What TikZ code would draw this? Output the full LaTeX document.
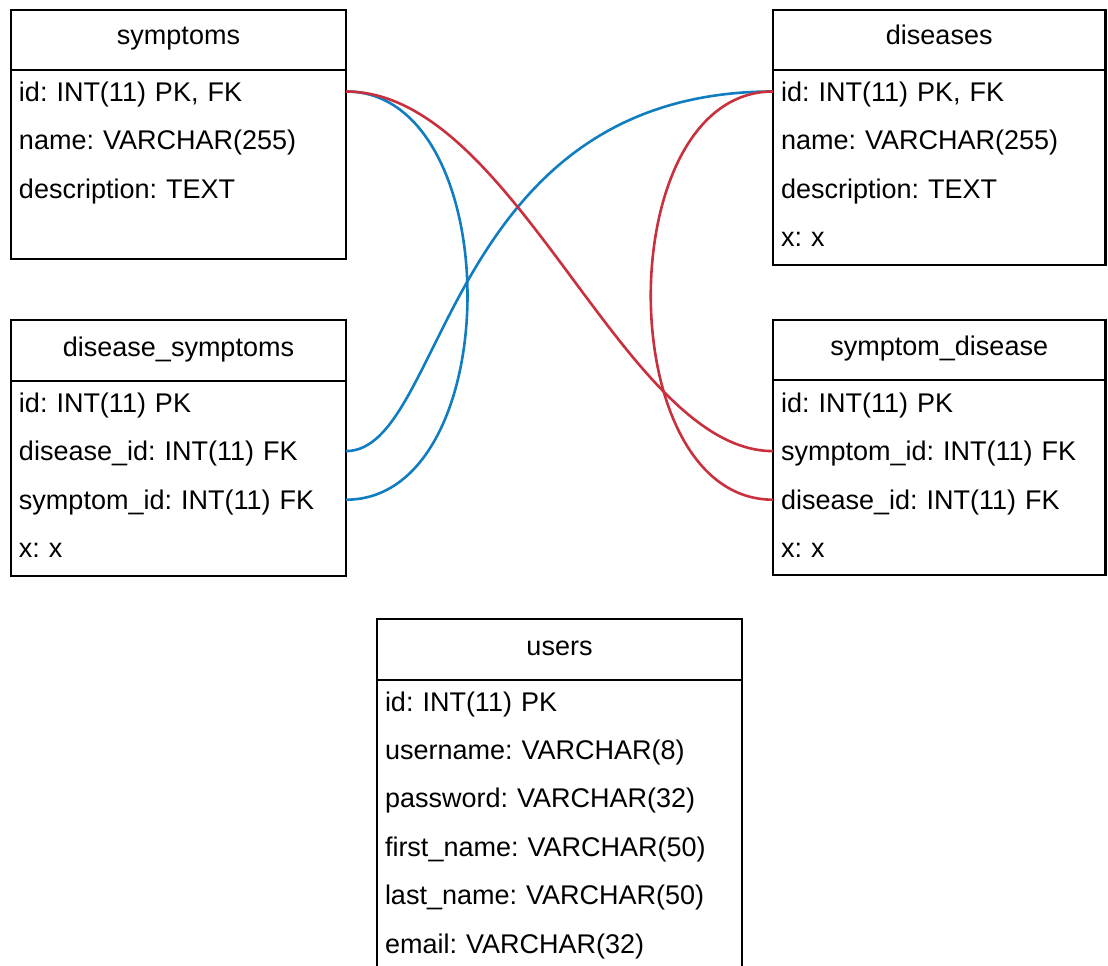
\documentclass[tikz,border=0pt]{standalone}
\usepackage{fontspec}
\setmainfont{Liberation Sans}
\definecolor{linkred}{RGB}{201,48,62}
\definecolor{linkblue}{RGB}{17,125,193}
\tikzset{
  frame/.style={line width=2.8pt},
  divider/.style={line width=2.2pt},
  head/.style={inner sep=0pt, outer sep=0pt, text height=13pt, text depth=3pt},
  field/.style={inner xsep=8pt, inner ysep=0pt, outer sep=0pt, align=left, text height=22pt, text depth=3pt},
  redlink/.style={line width=2.6pt, color=linkred},
  bluelink/.style={line width=2.6pt, color=linkblue}
}

\begin{document}
\frenchspacing
\begin{tikzpicture}[x=1pt, y=-1pt, font=\fontsize{27}{32}\selectfont\frenchspacing]
			%%%%% START %%%%%
			\useasboundingbox (0, 0) rectangle (1108, 966);
			\clip (0, 0) rectangle (1108, 966);
			
			% symptoms
			\draw[frame] (11, 10) rectangle (346, 259);
			\draw[divider] (11, 70) -- (346, 70);
			\node[head] (symptoms) at (178.5, 40) {symptoms};
			\node[field, text width=319pt] (sym-id) at (178.5, 91.5) {id: INT(11) PK, FK};
			\node[field, text width=319pt] (sym-name) at (178.5, 140.1) {name: VARCHAR(255)};
			\node[field, text width=319pt] (sym-desc) at (178.5, 188.7) {description: TEXT};
			
			% diseases
			\draw[frame] (773, 10) rectangle (1105.5, 265);
			\draw[divider] (773, 70) -- (1105.5, 70);
			\node[head] (diseases) at (939.25, 40) {diseases};
			\node[field, text width=316.5pt] (dis-id) at (939.25, 91.5) {id: INT(11) PK, FK};
			\node[field, text width=316.5pt] (dis-name) at (939.25, 140.1) {name: VARCHAR(255)};
			\node[field, text width=316.5pt] (dis-desc) at (939.25, 188.7) {description: TEXT};
			\node[field, text width=316.5pt] (dis-x) at (939.25, 237.3) {x: x};
			
			% disease_symptoms
			\draw[frame] (11, 320) rectangle (346, 576);
			\draw[divider] (11, 381) -- (346, 381);
			\node[head] (disease-symptoms) at (178.5, 351) {disease\_symptoms};
			\node[field, text width=319pt] (ds-id) at (178.5, 402.5) {id: INT(11) PK};
			\node[field, text width=319pt] (ds-disid) at (178.5, 451.1) {disease\_id: INT(11) FK};
			\node[field, text width=319pt] (ds-symid) at (178.5, 499.7) {symptom\_id: INT(11) FK};
			\node[field, text width=319pt] (ds-x) at (178.5, 548.3) {x: x};
			
			% symptom_disease
			\draw[frame] (773, 320) rectangle (1105.5, 575);
			\draw[divider] (773, 380) -- (1105.5, 380);
			\node[head] (symptom-disease) at (939.25, 350) {symptom\_disease};
			\node[field, text width=316.5pt] (sd-id) at (939.25, 402.5) {id: INT(11) PK};
			\node[field, text width=316.5pt] (sd-symid) at (939.25, 451.1) {symptom\_id: INT(11) FK};
			\node[field, text width=316.5pt] (sd-disid) at (939.25, 499.7) {disease\_id: INT(11) FK};
			\node[field, text width=316.5pt] (sd-x) at (939.25, 548.3) {x: x};
			
			% users
			\draw[frame] (377, 619) rectangle (742, 1000);
			\draw[divider] (377, 680) -- (742, 680);
			\node[head] (users) at (559.5, 650) {users};
			\node[field, text width=349pt] (usr-id) at (559.5, 701.5) {id: INT(11) PK};
			\node[field, text width=349pt] (usr-username) at (559.5, 749.9) {username: VARCHAR(8)};
			\node[field, text width=349pt] (usr-password) at (559.5, 798.3) {password: VARCHAR(32)};
			\node[field, text width=349pt] (usr-first) at (559.5, 846.7) {first\_name: VARCHAR(50)};
			\node[field, text width=349pt] (usr-last) at (559.5, 895.1) {last\_name: VARCHAR(50)};
			\node[field, text width=349pt] (usr-email) at (559.5, 943.5) {email: VARCHAR(32)};
			
			% links
			\draw[bluelink] (sym-id.east) .. controls +(162, 0) and +(162, 0) .. (ds-symid.east);
			\draw[bluelink] (ds-disid.east) .. controls +(100, 0) and +(-330, 0) .. (dis-id.west);
			\draw[redlink] (sym-id.east) .. controls +(170, 0) and +(-150, 0) .. (sd-symid.west);
			\draw[redlink] (dis-id.west) .. controls +(-163, 0) and +(-163, 0) .. (sd-disid.west);
			
			%%%%% END %%%%%
\end{tikzpicture}
\end{document}
